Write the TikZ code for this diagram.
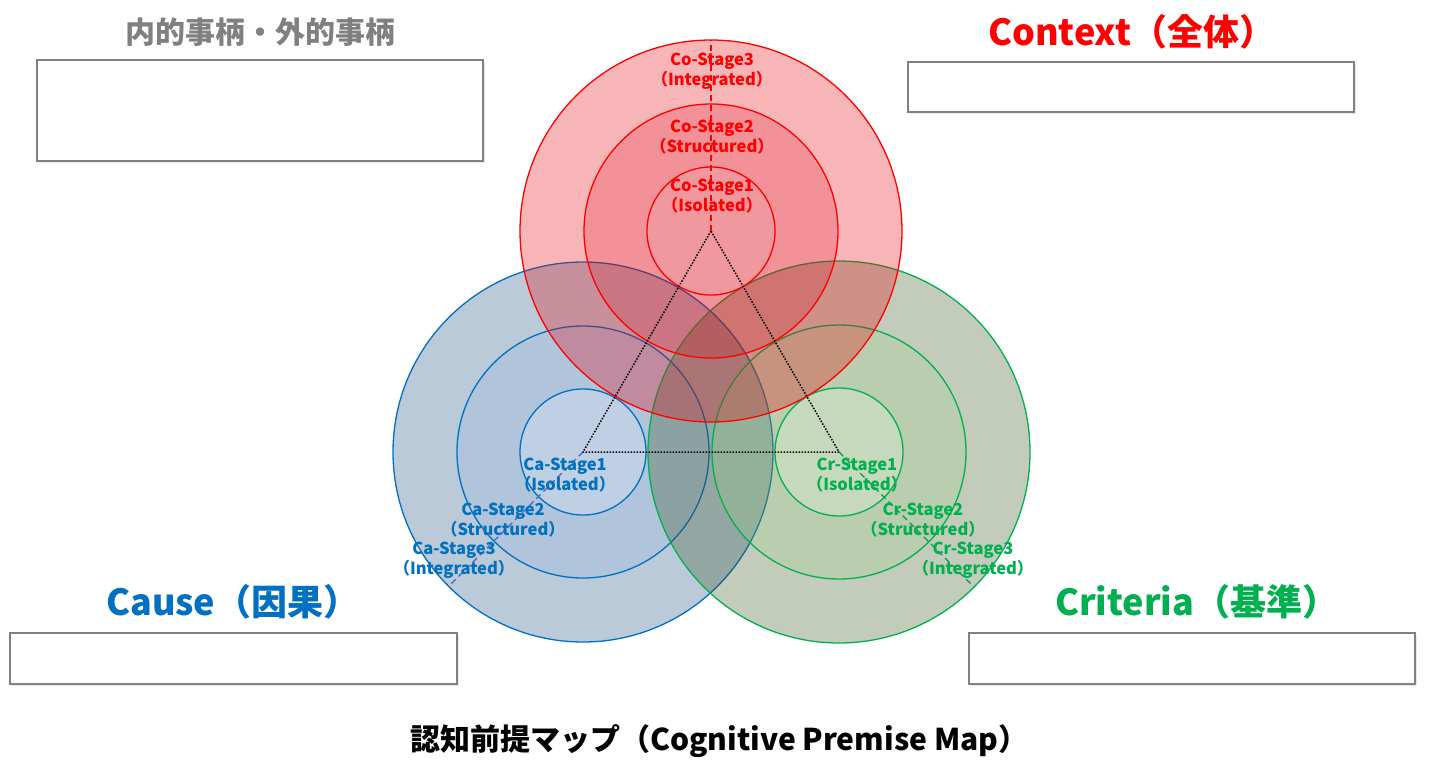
\documentclass[tikz,border=0pt]{standalone}
\usepackage{fontspec}
\setmainfont{Noto Sans CJK JP}
\usetikzlibrary{shadows}
\definecolor{cored}{RGB}{255,0,0}
\definecolor{cablue}{RGB}{0,112,192}
\definecolor{crgreen}{RGB}{0,176,80}
\definecolor{cadash}{RGB}{68,100,196}
\definecolor{crdash}{RGB}{0,160,70}
\definecolor{boxgray}{RGB}{128,128,128}
\definecolor{headgray}{RGB}{128,128,128}
\definecolor{coFa}{RGB}{234,0,10}
\definecolor{coFb}{RGB}{220,0,20}
\definecolor{coFc}{RGB}{234,176,178}
\definecolor{caFa}{RGB}{32,82,132}
\definecolor{caFb}{RGB}{100,160,240}
\definecolor{caFc}{RGB}{226,239,249}
\definecolor{crFa}{RGB}{58,85,32}
\definecolor{crFb}{RGB}{146,219,123}
\definecolor{crFc}{RGB}{233,244,225}
\tikzset{
  ring/.style={line width=1.3pt},
  infobox/.style={draw=boxgray, line width=2pt, fill=white, inner sep=0pt,
    drop shadow={shadow xshift=2pt, shadow yshift=-2pt, fill=black!15, opacity=0.6}},
  stagelabel/.style={font=\bfseries\fontsize{16.5}{19.5}\selectfont, align=center, inner sep=0pt},
  heading/.style={font=\bfseries\fontsize{36}{40}\selectfont, inner sep=0pt, anchor=base west},
  tri/.style={draw=black, line width=1.5pt, dash pattern=on 1.5pt off 1.5pt},
  axisline/.style={line width=1.3pt, dash pattern=on 6pt off 4pt}
}
\begin{document}
\begin{tikzpicture}[x=1pt,y=-1pt]
\useasboundingbox (0,0) rectangle (1437,780);
\fill[white] (0,0) rectangle (1437,780);

\coordinate (co) at (711,231);
\coordinate (ca) at (583,452);
\coordinate (cr) at (839,452);
\coordinate (cotop) at (711,40);

% Cause circles (bottom layer)
\filldraw[ring, draw=cablue, fill=caFa, fill opacity=0.3] (ca) circle[radius=190pt];
\filldraw[ring, draw=cablue, fill=caFb, fill opacity=0.12] (ca) circle[radius=126pt];
\filldraw[ring, draw=cablue, fill=caFc, fill opacity=0.3] (ca) circle[radius=63pt];
% Criteria circles
\filldraw[ring, draw=crgreen, fill=crFa, fill opacity=0.3] (cr) circle[radius=191pt];
\filldraw[ring, draw=crgreen, fill=crFb, fill opacity=0.2] (cr) circle[radius=127pt];
\filldraw[ring, draw=crgreen, fill=crFc, fill opacity=0.3] (cr) circle[radius=64pt];
% Context circles (top layer)
\filldraw[ring, draw=cored, fill=coFa, fill opacity=0.29] (co) circle[radius=191pt];
\filldraw[ring, draw=cored, fill=coFb, fill opacity=0.19] (co) circle[radius=127pt];
\filldraw[ring, draw=cored, fill=coFc, fill opacity=0.2] (co) circle[radius=64pt];

% triangle
\draw[tri] (co) -- (ca) -- (cr) -- cycle;

% stage axes
\coordinate (caaxis) at (449,586);
\coordinate (craxis) at (973,586);
\draw[axisline, draw=cored] (co) -- (cotop);
\draw[axisline, draw=cadash] (ca) -- (caaxis);
\draw[axisline, draw=crdash] (cr) -- (craxis);

% stage labels
\node[stagelabel, text=cored] (co3) at (712,71) {Co-Stage3\\（Integrated）};
\node[stagelabel, text=cored] (co2) at (712,137) {Co-Stage2\\（Structured）};
\node[stagelabel, text=cored] (co1) at (712,196) {Co-Stage1\\（Isolated）};
\node[stagelabel, text=cablue] (ca1) at (565,475) {Ca-Stage1\\（Isolated）};
\node[stagelabel, text=cablue] (ca2) at (503,520) {Ca-Stage2\\（Structured）};
\node[stagelabel, text=cablue] (ca3) at (454,560) {Ca-Stage3\\（Integrated）};
\node[stagelabel, text=crgreen] (cr1) at (857,475) {Cr-Stage1\\（Isolated）};
\node[stagelabel, text=crgreen] (cr2) at (923,520) {Cr-Stage2\\（Structured）};
\node[stagelabel, text=crgreen] (cr3) at (973,560) {Cr-Stage3\\（Integrated）};

% headings
\node[font=\bfseries\fontsize{30}{32}\selectfont, text=headgray, inner sep=0pt, anchor=base west] (hin) at (125,43) {内的事柄・外的事柄};
\node[heading, text=cored] (hco) at (988,45) {Context（全体）};
\node[heading, text=cablue] (hca) at (106,615) {Cause（因果）};
\node[heading, text=crgreen] (hcr) at (1055,615) {Criteria（基準）};

% boxes
\node[infobox, minimum width=446pt, minimum height=101pt] (bin) at (260,110.5) {};
\node[infobox, minimum width=446pt, minimum height=50pt] (bco) at (1131,87) {};
\node[infobox, minimum width=447pt, minimum height=51pt] (bca) at (233.5,658.5) {};
\node[infobox, minimum width=446pt, minimum height=51pt] (bcr) at (1192,658.5) {};

% title
\node[font=\bfseries\fontsize{30}{32}\selectfont, inner sep=0pt, anchor=base west] (title) at (410,750) {認知前提マップ（Cognitive Premise Map）};
\end{tikzpicture}
\end{document}
